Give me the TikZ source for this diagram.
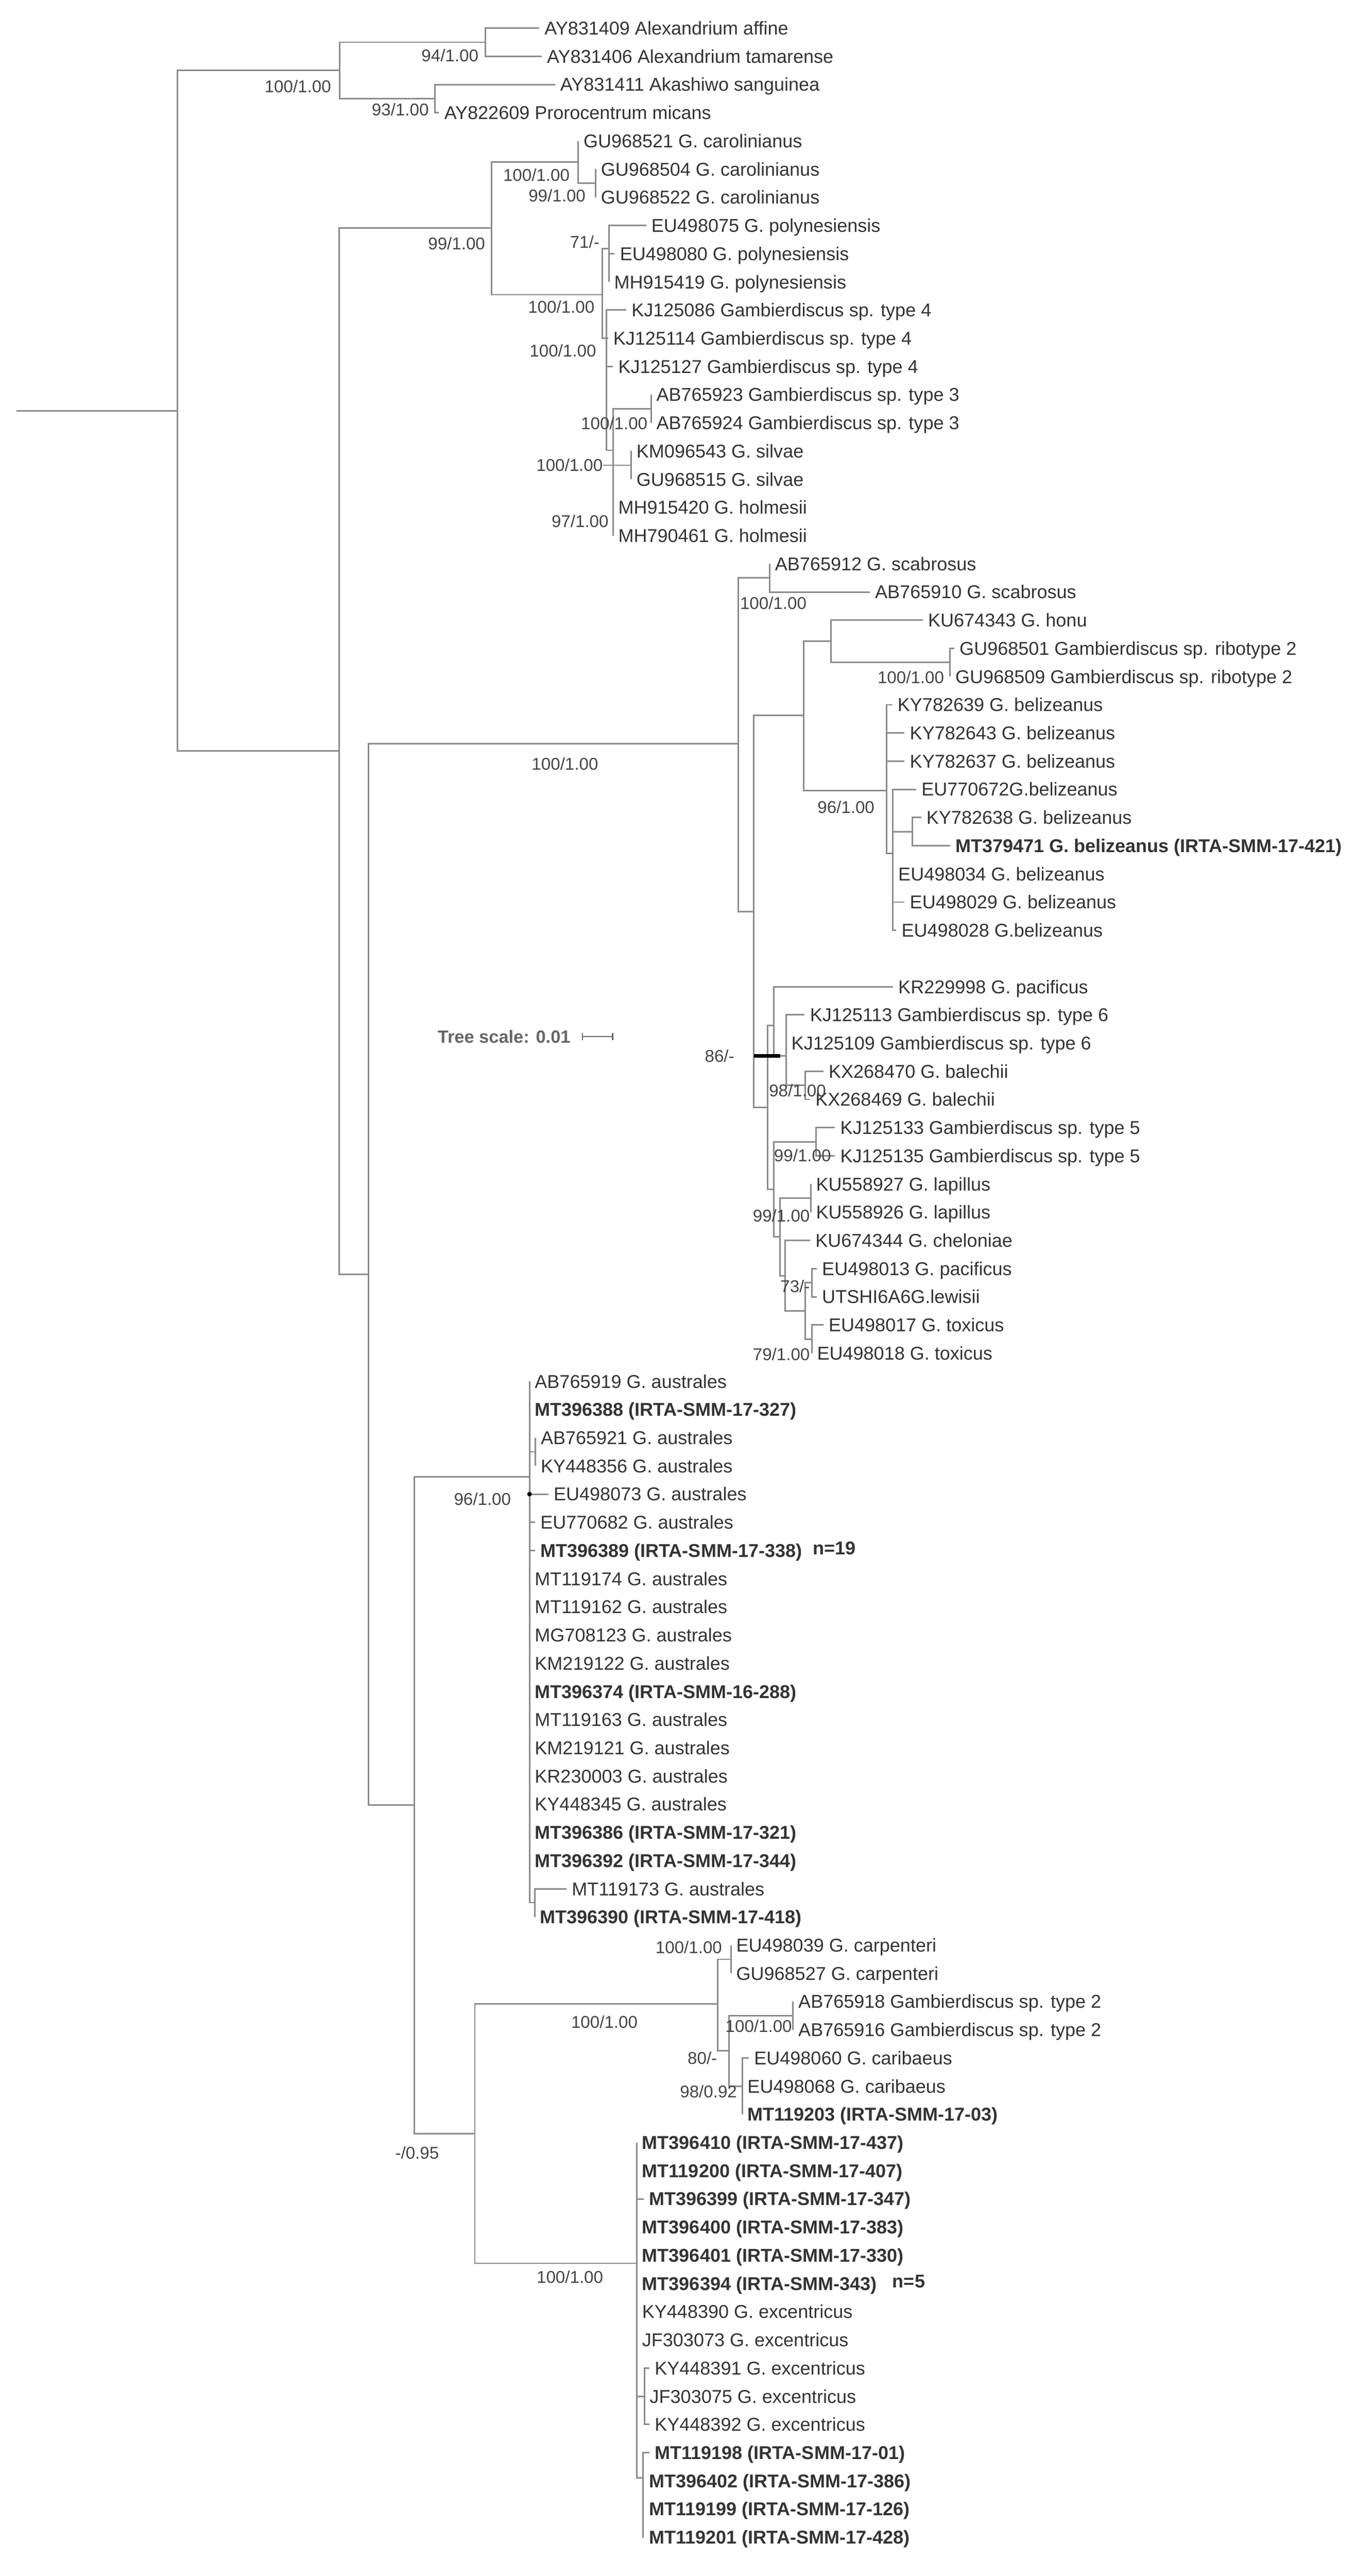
\documentclass[tikz,border=0pt]{standalone}
\usepackage{fontspec}
\setmainfont{Liberation Sans}
\definecolor{brc}{HTML}{8A8A8A}
\definecolor{leafc}{HTML}{333333}
\definecolor{labc}{HTML}{444444}
\definecolor{scc}{HTML}{666666}
\newcommand{\tleaf}[5]{\pgfmathsetmacro{\rowy}{17+17.01*#4}\node[leaf] (#1) at (#3,\rowy) {#5}; \draw[br] (#2) |- (#1.west);}
\begin{document}
\begin{tikzpicture}[x=1pt,y=-1pt,
  br/.style={draw=brc, line width=0.9pt},
  leaf/.style={anchor=west, inner xsep=3pt, inner ysep=0pt, text height=8pt, text depth=0pt, font=\fontsize{11.2}{13}\selectfont, text=leafc},
  lab/.style={inner sep=0pt, text height=7.4pt, text depth=0pt, font=\fontsize{10.3}{12}\selectfont, text=labc}]
\useasboundingbox (0,0) rectangle (828,1554.3);
% ---------- backbone
\coordinate (root) at (10,247.8);
\coordinate (R) at (107,247.8);
\draw[br] (root) -- (R);
\coordinate (Og) at (205,42.5);
\coordinate (I) at (204.6,453);
\draw[br] (R) |- (Og); \draw[br] (R) |- (I);
% ---------- outgroup
\coordinate (Alex) at (293,25.5); \coordinate (Aka) at (262.5,59.5);
\draw[br] (Og) |- (Alex); \draw[br] (Og) |- (Aka);
\tleaf{a0}{Alex}{325.5}{0}{AY831409 Alexandrium affine}
\tleaf{a1}{Alex}{327}{1}{AY831406 Alexandrium tamarense}
\tleaf{a2}{Aka}{335}{2}{AY831411 Akashiwo sanguinea}
\tleaf{a3}{Aka}{265}{3}{AY822609 Prorocentrum micans}
\node[lab,anchor=east] (lOg) at (200,52) {100/1.00};
\node[lab,anchor=east] (lAl) at (289,33.4) {94/1.00};
\node[lab,anchor=east] (lAk) at (259,66) {93/1.00};
% ---------- group 2
\coordinate (G2) at (296.6,137.6); \draw[br] (I) |- (G2);
\coordinate (Car) at (349,97.8); \coordinate (P) at (363.5,177.8);
\draw[br] (G2) |- (Car); \draw[br] (G2) |- (P);
\coordinate (Car2) at (359.5,110.55); \draw[br] (Car) |- (Car2);
\tleaf{b4}{Car}{349}{4}{GU968521 G. carolinianus}
\tleaf{b5}{Car2}{359.5}{5}{GU968504 G. carolinianus}
\tleaf{b6}{Car2}{359.5}{6}{GU968522 G. carolinianus}
\coordinate (Pol) at (367.5,150); \coordinate (Q) at (366,204.11);
\draw[br] (P) |- (Pol); \draw[br] (P) |- (Q);
\tleaf{b7}{Pol}{390}{7}{EU498075 G. polynesiensis}
\tleaf{b8}{Pol}{371}{8}{EU498080 G. polynesiensis}
\tleaf{b9}{Pol}{367.5}{9}{MH915419 G. polynesiensis}
\coordinate (H) at (370,271.7);
\tleaf{b10}{Q}{378}{10}{KJ125086 Gambierdiscus sp. type 4}
\tleaf{b11}{Q}{367}{11}{KJ125114 Gambierdiscus sp. type 4}
\tleaf{b12}{Q}{370}{12}{KJ125127 Gambierdiscus sp. type 4}
\draw[br] (Q) |- (H);
\coordinate (ABn) at (393,246.6); \coordinate (Sil) at (381,280.7); \coordinate (hx) at (364,280.7);
\draw[br] (H) |- (ABn); \draw[br] (hx) -- (Sil);
\tleaf{b13}{ABn}{393}{13}{AB765923 Gambierdiscus sp. type 3}
\tleaf{b14}{ABn}{393}{14}{AB765924 Gambierdiscus sp. type 3}
\tleaf{b15}{Sil}{381}{15}{KM096543 G. silvae}
\tleaf{b16}{Sil}{381}{16}{GU968515 G. silvae}
\tleaf{b17}{H}{370}{17}{MH915420 G. holmesii}
\tleaf{b18}{H}{370}{18}{MH790461 G. holmesii}
\node[lab,anchor=east] (lG2) at (293,147) {99/1.00};
\node[lab,anchor=east] (lCar) at (344,105.6) {100/1.00};
\node[lab,anchor=east] (lCar2) at (353.6,118) {99/1.00};
\node[lab,anchor=east] (lPol) at (362,146) {71/-};
\node[lab,anchor=east] (lP) at (359,185) {100/1.00};
\node[lab,anchor=east] (lQ) at (360,211.6) {100/1.00};
\node[lab,anchor=east] (lAB) at (391,255.5) {100/1.00};
\node[lab,anchor=east] (lSil) at (364,280.7) {100/1.00};
\node[lab,anchor=east] (lHol) at (367.5,314.5) {97/1.00};
% ---------- J, S, group 3
\coordinate (J) at (222.4,769); \draw[br] (I) |- (J);
\coordinate (S) at (445.7,448.7); \coordinate (K) at (250,1089);
\draw[br] (J) |- (S); \draw[br] (J) |- (K);
\node[lab] (lS) at (341,461) {100/1.00};
\coordinate (Sc) at (464.6,348.7); \coordinate (T) at (455,550);
\draw[br] (S) |- (Sc); \draw[br] (S) |- (T);
\tleaf{c19}{Sc}{464.6}{19}{AB765912 G. scabrosus}
\tleaf{c20}{Sc}{525}{20}{AB765910 G. scabrosus}
\node[lab,anchor=west] (lSc) at (446.5,364) {100/1.00};
\coordinate (U) at (485,431.7); \coordinate (Z) at (463.3,668.2);
\draw[br] (T) |- (U); \draw[br] (T) |- (Z);
\coordinate (V) at (501.7,387); \coordinate (W) at (535,477);
\draw[br] (U) |- (V); \draw[br] (U) |- (W);
\coordinate (Rib) at (573.5,399.7); \draw[br] (V) |- (Rib);
\tleaf{c21}{V}{557}{21}{KU674343 G. honu}
\tleaf{c22}{Rib}{576}{22}{GU968501 Gambierdiscus sp. ribotype 2}
\tleaf{c23}{Rib}{573.5}{23}{GU968509 Gambierdiscus sp. ribotype 2}
\node[lab,anchor=east] (lRib) at (570,408.5) {100/1.00};
\coordinate (X) at (539,515); \draw[br] (W) |- (X);
\tleaf{c24}{W}{538.6}{24}{KY782639 G. belizeanus}
\tleaf{c25}{W}{546}{25}{KY782643 G. belizeanus}
\tleaf{c26}{W}{546}{26}{KY782637 G. belizeanus}
\coordinate (Y) at (550.6,501.8); \draw[br] (X) |- (Y);
\tleaf{c27}{X}{553}{27}{EU770672G.belizeanus}
\tleaf{c28}{Y}{556}{28}{KY782638 G. belizeanus}
\tleaf{c29}{Y}{573.5}{29}{\textbf{MT379471 G. belizeanus (IRTA-SMM-17-421)}}
\tleaf{c30}{X}{539}{30}{EU498034 G. belizeanus}
\tleaf{c31}{X}{546}{31}{EU498029 G. belizeanus}
\tleaf{c32}{X}{541}{32}{EU498028 G.belizeanus}
\node[lab,anchor=east] (lW) at (528,487) {96/1.00};
% ---------- group 4
\coordinate (Z1) at (467,618.8); \coordinate (Zb) at (467,717.6);
\draw[br] (Z) |- (Z1); \draw[br] (Z) |- (Zb);
\coordinate (T6) at (474.5,637); \draw[br] (Z1) |- (T6);
\tleaf{d34}{Z1}{539}{34}{KR229998 G. pacificus}
\coordinate (Bal) at (486,654.9); \draw[br] (T6) |- (Bal);
\tleaf{d35}{T6}{485.7}{35}{KJ125113 Gambierdiscus sp. type 6}
\tleaf{d36}{T6}{474.5}{36}{KJ125109 Gambierdiscus sp. type 6}
\tleaf{d37}{Bal}{497}{37}{KX268470 G. balechii}
\tleaf{d38}{Bal}{489}{38}{KX268469 G. balechii}
\coordinate (tk1) at (455,637); \coordinate (tk2) at (471,637);
\draw[line width=2.2pt,black] (tk1) -- (tk2);
\node[lab,anchor=east] (l86) at (443.4,637) {86/-};
\node[lab,anchor=west] (l98) at (464,658) {98/1.00};
\coordinate (T5) at (492.6,688.9); \coordinate (L) at (470.7,746.3);
\draw[br] (Zb) |- (T5); \draw[br] (Zb) |- (L);
\tleaf{d39}{T5}{504}{39}{KJ125133 Gambierdiscus sp. type 5}
\tleaf{d40}{T5}{504}{40}{KJ125135 Gambierdiscus sp. type 5}
\node[lab,anchor=west] (l99a) at (467,697) {99/1.00};
\coordinate (Lap) at (489.4,722.9); \coordinate (C) at (474,769.7);
\draw[br] (L) |- (Lap); \draw[br] (L) |- (C);
\tleaf{d41}{Lap}{489.4}{41}{KU558927 G. lapillus}
\tleaf{d42}{Lap}{489.4}{42}{KU558926 G. lapillus}
\node[lab,anchor=east] (l99b) at (489,733.5) {99/1.00};
\coordinate (D) at (486,791); \draw[br] (C) |- (D);
\tleaf{d43}{C}{489}{43}{KU674344 G. cheloniae}
\coordinate (Lew) at (490,774); \coordinate (Tox) at (490,808);
\draw[br] (D) |- (Lew); \draw[br] (D) |- (Tox);
\tleaf{d44}{Lew}{493}{44}{EU498013 G. pacificus}
\tleaf{d45}{Lew}{493}{45}{UTSHI6A6G.lewisii}
\tleaf{d46}{Tox}{497}{46}{EU498017 G. toxicus}
\tleaf{d47}{Tox}{490}{47}{EU498018 G. toxicus}
\node[lab,anchor=east] (l73) at (489,776) {73/-};
\node[lab,anchor=east] (l79) at (489,817) {79/1.00};
% ---------- australes
\coordinate (A) at (319.6,891); \coordinate (M) at (286.6,1287.4);
\draw[br] (K) |- (A); \draw[br] (K) |- (M);
\node[lab,anchor=east] (l96) at (308.6,904.5) {96/1.00};
\coordinate (An) at (323.2,876); \coordinate (B) at (322.8,1148);
\draw[br] (A) |- (An); \draw[br] (A) |- (B);
\tleaf{e48}{A}{319.6}{48}{AB765919 G. australes}
\tleaf{e49}{A}{319.6}{49}{\textbf{MT396388 (IRTA-SMM-17-327)}}
\tleaf{e50}{An}{323.2}{50}{AB765921 G. australes}
\tleaf{e51}{An}{323.2}{51}{KY448356 G. australes}
\tleaf{e52}{A}{331}{52}{EU498073 G. australes}
\tleaf{e53}{A}{323}{53}{EU770682 G. australes}
\tleaf{e54}{A}{323}{54}{\textbf{MT396389 (IRTA-SMM-17-338)}}
\tleaf{e55}{A}{319.6}{55}{MT119174 G. australes}
\tleaf{e56}{A}{319.6}{56}{MT119162 G. australes}
\tleaf{e57}{A}{319.6}{57}{MG708123 G. australes}
\tleaf{e58}{A}{319.6}{58}{KM219122 G. australes}
\tleaf{e59}{A}{319.6}{59}{\textbf{MT396374 (IRTA-SMM-16-288)}}
\tleaf{e60}{A}{319.6}{60}{MT119163 G. australes}
\tleaf{e61}{A}{319.6}{61}{KM219121 G. australes}
\tleaf{e62}{A}{319.6}{62}{KR230003 G. australes}
\tleaf{e63}{A}{319.6}{63}{KY448345 G. australes}
\tleaf{e64}{A}{319.6}{64}{\textbf{MT396386 (IRTA-SMM-17-321)}}
\tleaf{e65}{A}{319.6}{65}{\textbf{MT396392 (IRTA-SMM-17-344)}}
\tleaf{e66}{B}{342}{66}{MT119173 G. australes}
\tleaf{e67}{B}{322.8}{67}{\textbf{MT396390 (IRTA-SMM-17-418)}}
\coordinate (dot) at (319.6,901.52); \fill[black] (dot) circle (1.4);
\node[leaf,anchor=west,inner xsep=0pt] (n19) at (490.4,934) {\textbf{n=19}};
% ---------- carpenteri group
\coordinate (N) at (433.2,1209); \coordinate (E) at (384.4,1365.6);
\draw[br] (M) |- (N); \draw[br] (M) |- (E);
\node[lab] (lN) at (364.8,1220) {100/1.00};
\node[lab] (lE) at (344,1374) {100/1.00};
\node[lab,anchor=west] (lM) at (238.4,1299) {-/0.95};
\coordinate (Cp) at (441.2,1182.2); \coordinate (O) at (440,1237.5);
\draw[br] (N) |- (Cp); \draw[br] (N) |- (O);
\tleaf{f68}{Cp}{441.2}{68}{EU498039 G. carpenteri}
\tleaf{f69}{Cp}{441.2}{69}{GU968527 G. carpenteri}
\node[lab,anchor=east] (lCp) at (436,1175) {100/1.00};
\coordinate (T2) at (478.7,1216.2); \coordinate (Cb) at (448,1258.7);
\draw[br] (O) |- (T2); \draw[br] (O) |- (Cb);
\tleaf{f70}{T2}{478.7}{70}{AB765918 Gambierdiscus sp. type 2}
\tleaf{f71}{T2}{478.7}{71}{AB765916 Gambierdiscus sp. type 2}
\node[lab,anchor=west] (lT2) at (437.7,1222.5) {100/1.00};
\node[lab,anchor=east] (l80) at (433,1241.6) {80/-};
\tleaf{f72}{Cb}{452}{72}{EU498060 G. caribaeus}
\tleaf{f73}{Cb}{448}{73}{EU498068 G. caribaeus}
\tleaf{f74}{Cb}{448}{74}{\textbf{MT119203 (IRTA-SMM-17-03)}}
\node[lab,anchor=east] (lCb) at (445,1262) {98/0.92};
% ---------- excentricus
\coordinate (G1) at (389,1445.84); \coordinate (Gx) at (388,1495);
\draw[br] (E) |- (G1); \draw[br] (E) |- (Gx);
\tleaf{g75}{E}{384.4}{75}{\textbf{MT396410 (IRTA-SMM-17-437)}}
\tleaf{g76}{E}{384.4}{76}{\textbf{MT119200 (IRTA-SMM-17-407)}}
\tleaf{g77}{E}{388.6}{77}{\textbf{MT396399 (IRTA-SMM-17-347)}}
\tleaf{g78}{E}{384.4}{78}{\textbf{MT396400 (IRTA-SMM-17-383)}}
\tleaf{g79}{E}{384.4}{79}{\textbf{MT396401 (IRTA-SMM-17-330)}}
\tleaf{g80}{E}{384.4}{80}{\textbf{MT396394 (IRTA-SMM-343)}}
\tleaf{g81}{E}{384.4}{81}{KY448390 G. excentricus}
\tleaf{g82}{E}{384.4}{82}{JF303073 G. excentricus}
\tleaf{g83}{G1}{392}{83}{KY448391 G. excentricus}
\tleaf{g84}{G1}{389}{84}{JF303075 G. excentricus}
\tleaf{g85}{G1}{392}{85}{KY448392 G. excentricus}
\tleaf{g86}{Gx}{392}{86}{\textbf{MT119198 (IRTA-SMM-17-01)}}
\tleaf{g87}{Gx}{388.6}{87}{\textbf{MT396402 (IRTA-SMM-17-386)}}
\tleaf{g88}{Gx}{388.6}{88}{\textbf{MT119199 (IRTA-SMM-17-126)}}
\tleaf{g89}{Gx}{388.6}{89}{\textbf{MT119201 (IRTA-SMM-17-428)}}
\node[leaf,anchor=west,inner xsep=0pt] (n5) at (538.5,1376.3) {\textbf{n=5}};
% ---------- tree scale
\node[anchor=west,inner sep=0pt,text=scc,font=\fontsize{10.7}{12}\selectfont\bfseries] (ts) at (264,625.4) {Tree scale: 0.01};
\coordinate (sb1) at (351.6,625.4); \coordinate (sb2) at (369.7,625.4);
\draw[scc,line width=0.8pt] (sb1) -- (sb2);
\draw[scc,line width=0.8pt] ([yshift=-2.2pt]sb1) -- ([yshift=2.2pt]sb1);
\draw[scc,line width=0.8pt] ([yshift=-2.2pt]sb2) -- ([yshift=2.2pt]sb2);
\end{tikzpicture}
\end{document}
